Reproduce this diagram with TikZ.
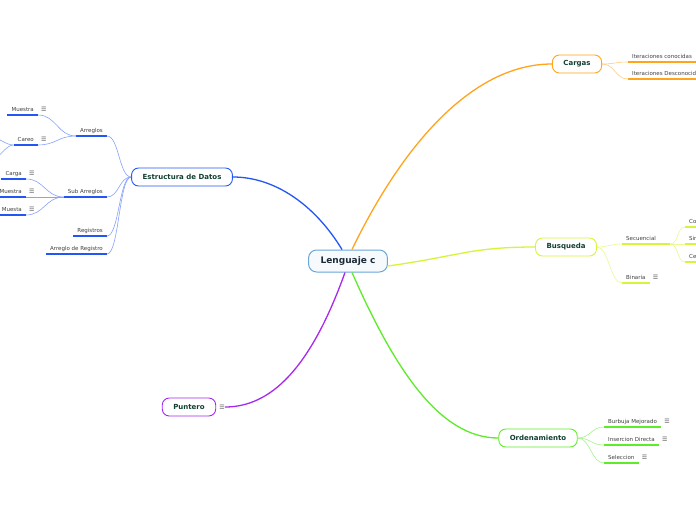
\documentclass[tikz,border=0pt]{standalone}
\usepackage{fontspec}
\setmainfont{DejaVu Sans}
\usepackage{xcolor}
\usetikzlibrary{positioning}
\definecolor{cargas}{HTML}{FFA41B}
\definecolor{busq}{HTML}{D6F53A}
\definecolor{orden}{HTML}{5EEB2A}
\definecolor{punt}{HTML}{A928EE}
\definecolor{estr}{HTML}{2456F5}
\definecolor{rootc}{HTML}{6AA6DA}
\definecolor{nodetext}{HTML}{133F33}
\newcommand{\menu}{☰}

\begin{document}
\begin{tikzpicture}[
  x=1pt, y=-1pt,
  root/.style={draw=rootc, line width=1pt, fill=rootc!6, rounded corners=8pt, minimum height=22pt, inner xsep=12pt, font=\fontsize{9}{11}\selectfont\bfseries, text=rootc!25!black},
  main/.style={draw=#1, line width=0.9pt, fill=white, rounded corners=7pt, minimum height=18pt, inner xsep=11pt, font=\fontsize{7}{8}\selectfont\bfseries, text=nodetext},
  sub/.style={inner xsep=4pt, inner ysep=2.5pt, text height=4pt, text depth=1pt, font=\fontsize{5.5}{6}\selectfont, text=black!75},
  iconlbl/.style={font=\fontsize{6}{7}\selectfont, text=black!65, inner sep=0pt},
  icon/.style={label={[iconlbl, label distance=3pt]right:\menu}},
  branch/.style={draw=#1, line width=1.3pt},
  twig/.style={draw=#1!55, line width=0.6pt},
  uline/.style={draw=#1, line width=1.4pt}]
\useasboundingbox[fill=white] (0,0) rectangle (696,520);
% main topics
\node[root] (root) at (348,261) {Lenguaje c};
\node[main=cargas] (cargas) at (577,64) {Cargas};
\node[main=busq] (busq) at (566,247) {Busqueda};
\node[main=orden] (orden) at (538,438) {Ordenamiento};
\node[main=punt, label={[iconlbl, label distance=3pt, name=pic]right:\menu}] (punt) at (189,407) {Puntero};
\node[main=estr] (estr) at (182,177) {Estructura de Datos};
% right side subtopics
\node[sub, anchor=south west] (itc) at (628,62) {Iteraciones conocidas};
\node[sub, anchor=south west] (itd) at (628,79) {Iteraciones Desconocidas};
\node[sub, anchor=south west, text width=40pt, align=left] (sec) at (622,244) {Secuencial};
\node[sub, anchor=south west] (co) at (685,227) {Con centinela};
\node[sub, anchor=south west] (si) at (685,244) {Sin centinela};
\node[sub, anchor=south west] (ce) at (685,262) {Centinela};
\node[sub, icon, anchor=south west] (bin) at (622,283) {Binaria};
\node[sub, icon, anchor=south west] (bur) at (604,427) {Burbuja Mejorado};
\node[sub, icon, anchor=south west] (ins) at (604,445) {Insercion Directa};
\node[sub, icon, anchor=south west] (sel) at (604,463) {Seleccion};
% left side subtopics
\node[sub, anchor=south east] (arr) at (107,136) {Arreglos};
\node[sub, icon, anchor=south east] (mu1) at (38,115) {Muestra};
\node[sub, icon, anchor=south east] (cgo) at (38,145) {Careo};
\node[sub, anchor=south east] (sa) at (107,197) {Sub Arreglos};
\node[sub, icon, anchor=south east] (car) at (26,179) {Carga};
\node[sub, icon, anchor=south east] (mu2) at (26,197) {Muestra};
\node[sub, icon, anchor=south east] (mus) at (26,215) {Muesta};
\node[sub, anchor=south east] (reg) at (107,236) {Registros};
\node[sub, anchor=south east] (adr) at (107,254) {Arreglo de Registro};
\coordinate (cg1) at (-8,137);
\coordinate (cg2) at (-8,160);
% underlines
\foreach \n/\c in {itc/cargas, itd/cargas, sec/busq, co/busq, si/busq, ce/busq, bin/busq, bur/orden, ins/orden, sel/orden, arr/estr, sa/estr, reg/estr, adr/estr, mu1/estr, cgo/estr, car/estr, mu2/estr, mus/estr}
  \draw[uline=\c] (\n.south west) -- (\n.south east);
% branches
\draw[branch=estr] ([xshift=-6pt]root.north) .. controls (315,205) and (275,177) .. (estr.east);
\draw[branch=cargas] ([xshift=4pt]root.north) .. controls (400,150) and (470,64) .. (cargas.west);
\draw[branch=busq] ([yshift=-5pt]root.east) .. controls (460,256) and (470,247) .. (busq.west);
\draw[branch=orden] ([xshift=4pt]root.south) .. controls (395,370) and (440,438) .. (orden.west);
\draw[branch=punt] ([xshift=-3pt]root.south) .. controls (310,370) and (270,407) .. (pic.east);
% twigs
\draw[twig=cargas] (cargas.east) .. controls +(13,0) and +(-13,0) .. (itc.south west);
\draw[twig=cargas] (cargas.east) .. controls +(13,0) and +(-13,0) .. (itd.south west);
\draw[twig=busq] (busq.east) .. controls +(12,0) and +(-12,0) .. (sec.south west);
\draw[twig=busq] (busq.east) .. controls +(12,0) and +(-12,0) .. (bin.south west);
\draw[twig=busq] (sec.south east) .. controls +(8,0) and +(-8,0) .. (co.south west);
\draw[twig=busq] (sec.south east) -- (si.south west);
\draw[twig=busq] (sec.south east) .. controls +(8,0) and +(-8,0) .. (ce.south west);
\draw[twig=orden] (orden.east) .. controls +(13,0) and +(-13,0) .. (bur.south west);
\draw[twig=orden] (orden.east) .. controls +(13,0) and +(-13,0) .. (ins.south west);
\draw[twig=orden] (orden.east) .. controls +(13,0) and +(-13,0) .. (sel.south west);
\draw[twig=estr] (estr.west) .. controls +(-12,0) and +(12,0) .. (arr.south east);
\draw[twig=estr] (estr.west) .. controls +(-12,0) and +(12,0) .. (sa.south east);
\draw[twig=estr] (estr.west) .. controls +(-12,0) and +(12,0) .. (reg.south east);
\draw[twig=estr] (estr.west) .. controls +(-12,0) and +(12,0) .. (adr.south east);
\draw[twig=estr] (arr.south west) .. controls +(-18,0) and +(18,0) .. (mu1.south east);
\draw[twig=estr] (arr.south west) .. controls +(-18,0) and +(18,0) .. (cgo.south east);
\draw[twig=estr] (sa.south west) .. controls +(-18,0) and +(18,0) .. (car.south east);
\draw[twig=estr] (sa.south west) .. controls +(-18,0) and +(18,0) .. (mu2.south east);
\draw[twig=estr] (sa.south west) .. controls +(-18,0) and +(18,0) .. (mus.south east);
\draw[twig=estr] (cgo.south west) .. controls +(-8,0) and +(6,0) .. (cg1);
\draw[twig=estr] (cgo.south west) .. controls +(-8,0) and +(6,0) .. (cg2);
\end{tikzpicture}
\end{document}
